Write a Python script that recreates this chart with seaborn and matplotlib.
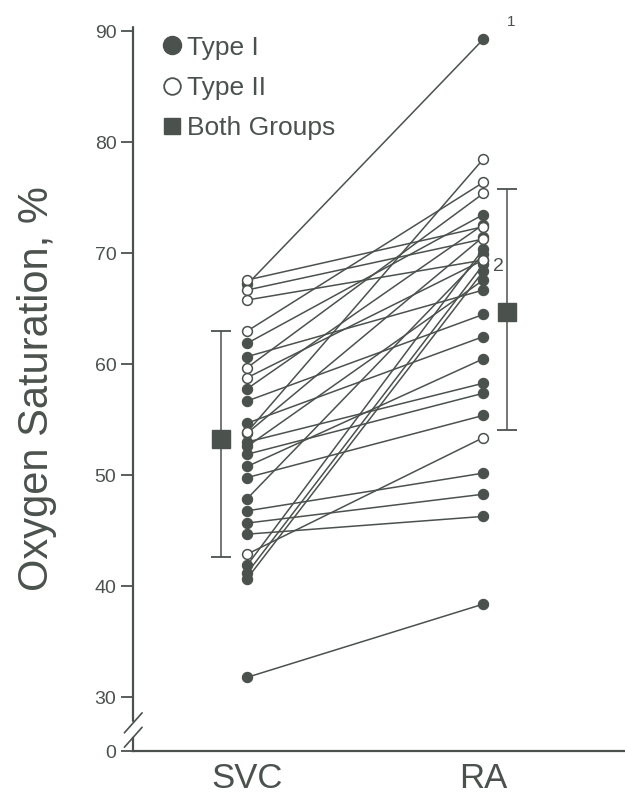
import numpy as np
import pandas as pd
import seaborn as sns
import matplotlib.pyplot as plt
from matplotlib.lines import Line2D

# Data (oxygen saturation, %)
type1_svc = [67.2, 61.9, 60.7, 57.8, 56.7, 54.7, 53.8, 53.0, 52.6, 51.9,
             50.8, 49.8, 47.9, 46.8, 45.7, 44.7, 41.9, 41.2, 40.7, 31.8]
type1_ra = [89.3, 73.5, 66.7, 72.6, 64.5, 62.5, 71.5, 58.3, 67.6, 57.4,
            60.5, 55.4, 69.9, 50.2, 48.3, 46.3, 70.4, 69.0, 68.4, 38.4]
type2_svc = [67.6, 66.7, 65.8, 63.0, 59.7, 58.8, 53.9, 42.9]
type2_ra = [72.4, 71.3, 69.4, 76.4, 75.4, 69.4, 78.5, 53.4]

sites = ["SVC", "RA"]
group_mean = [53.3, 64.7]
group_upper = [63.0, 75.8]
group_lower = [42.6, 54.1]

ink = "#4b524e"

# long table for seaborn
rows = []
for i, (a, b) in enumerate(zip(type1_svc, type1_ra)):
    rows.append(dict(pid=i, pos=0, sat=a, kind="Type I"))
    rows.append(dict(pid=i, pos=1, sat=b, kind="Type I"))
for j, (a, b) in enumerate(zip(type2_svc, type2_ra)):
    rows.append(dict(pid=100 + j, pos=0, sat=a, kind="Type II"))
    rows.append(dict(pid=100 + j, pos=1, sat=b, kind="Type II"))
df = pd.DataFrame(rows)

sns.set_style("ticks")
plt.rcParams['font.family'] = ['Liberation Sans', 'DejaVu Sans']

fig = plt.figure(figsize=(6.25, 7.94), dpi=100)
ax = fig.add_axes([0.213, 0.054, 0.787, 0.912])

# paired lines
sns.lineplot(data=df, x="pos", y="sat", units="pid", estimator=None,
             color=ink, lw=1.1, ax=ax, legend=False, zorder=2)
sns.scatterplot(data=df[df.kind == "Type I"], x="pos", y="sat", color=ink,
                s=55, edgecolor=ink, linewidth=0.8, ax=ax, zorder=3, legend=False)
sns.scatterplot(data=df[df.kind == "Type II"], x="pos", y="sat", color="white",
                s=50, edgecolor=ink, linewidth=1.1, ax=ax, zorder=4, legend=False)

# group means with error bars, offset outside the columns
mx = [-0.11, 1.1]
err = [np.array(group_mean) - np.array(group_lower),
       np.array(group_upper) - np.array(group_mean)]
ax.errorbar(mx, group_mean, yerr=err, fmt="s", color=ink, ms=13,
            ecolor=ink, elinewidth=1.1, capsize=7, capthick=1.3, zorder=5)

ax.text(1.1, 90.2, "1", fontsize=11, color=ink, va="bottom", clip_on=False)
ax.text(1.04, 68.4, "2", fontsize=14, color=ink)

# broken axis: value 0 sits just below 30
zero_pos = 25.15
ax.set_ylim(zero_pos, 90.4)
ax.set_xlim(-0.483, 1.6)
ax.set_yticks([zero_pos, 30, 40, 50, 60, 70, 80, 90])
ax.set_yticklabels(["0", "30", "40", "50", "60", "70", "80", "90"])
ax.set_xticks([0, 1])
ax.set_xticklabels(sites)
ax.tick_params(axis="y", length=9, width=1.3, color=ink, labelsize=14,
               labelcolor=ink, pad=3)
ax.tick_params(axis="x", length=0, labelsize=25, labelcolor=ink, pad=8)
ax.set_xlabel("")
ax.set_ylabel("Oxygen Saturation, %", fontsize=30, color=ink, labelpad=27)
sns.despine(ax=ax)
for sp in ["left", "bottom"]:
    ax.spines[sp].set_color(ink)
    ax.spines[sp].set_linewidth(1.6)

# hide spine across the break and draw slashes
ax.spines["left"].set_bounds(zero_pos, 26.3)
ax.plot([-0.483, -0.483], [27.9, 90.4], color=ink, lw=1.6, clip_on=False, zorder=1)
for yb in [26.4, 27.7]:
    ax.plot([-0.52, -0.445], [yb - 0.9, yb + 0.9], color=ink, lw=1.2, clip_on=False)

handles = [
    Line2D([], [], marker="o", ls="", color=ink, ms=13, label="Type I"),
    Line2D([], [], marker="o", ls="", mfc="white", mec=ink, mew=1.3, ms=12, label="Type II"),
    Line2D([], [], marker="s", ls="", color=ink, ms=12, label="Both Groups"),
]
leg = ax.legend(handles=handles, loc="upper left", bbox_to_anchor=(0.02, 1.01),
                frameon=False, fontsize=19, handletextpad=0.05, labelspacing=0.62,
                borderaxespad=0.2, handlelength=1.0)
for t in leg.get_texts():
    t.set_color(ink)

fig.savefig("out.png", dpi=100, facecolor="white")
